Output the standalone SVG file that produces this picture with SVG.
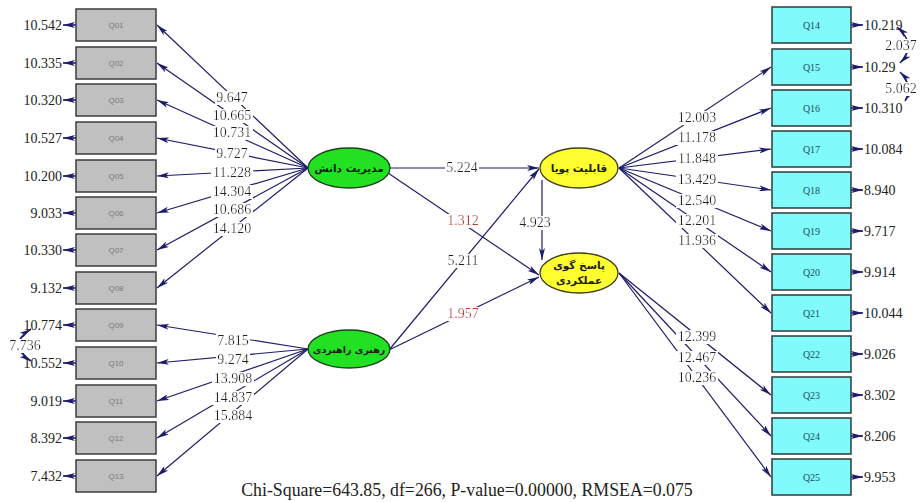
<svg xmlns="http://www.w3.org/2000/svg" width="922" height="502" viewBox="0 0 922 502">
  <style>
    .obsL { fill: #c0c0c0; stroke: #3c3c3c; stroke-width: 1.5; }
    .obsR { fill: #80fafa; stroke: #2f3a3a; stroke-width: 1.5; }
    .lblL { font-family: "Liberation Sans", Arial, sans-serif; font-size: 8px; fill: #7a7a7a; text-anchor: middle; }
    .lblR { font-family: "Liberation Serif", "Times New Roman", serif; font-size: 10px; fill: #1e4e5e; text-anchor: middle; }
    .green { fill: #22e022; stroke: #1f3f1f; stroke-width: 1.3; }
    .yellow { fill: #ffff30; stroke: #3f3f1f; stroke-width: 1.3; }
    .lat { font-family: "DejaVu Sans", "Noto Sans", sans-serif; font-weight: bold; font-size: 10.5px; fill: #1a1a1a; text-anchor: middle; }
    .lat.small { font-size: 9.5px; }
    .num { font-family: "Liberation Serif", "Times New Roman", serif; font-size: 14px; fill: #222; }
    .mid { text-anchor: middle; }
    .end { text-anchor: end; }
    .boxed text { filter: url(#bg); }
    .red { fill: #c0392b; }
    .path { stroke: #1c1c6b; stroke-width: 1.2; fill: none; marker-end: url(#ah); }
    .err { stroke: #1c1c6b; stroke-width: 1.6; fill: none; marker-end: url(#ah); }
    .cov { stroke: #1c1c6b; stroke-width: 1.5; fill: none; marker-start: url(#ah); marker-end: url(#ah); }
  </style>
  <defs>
    <marker id="ah" viewBox="0 0 12 6" refX="12" refY="3" markerWidth="12" markerHeight="6" markerUnits="userSpaceOnUse" orient="auto-start-reverse">
      <path d="M0,0 L12,3 L0,6 L3,3 z" fill="#1c1c6b"/>
    </marker>
    <!-- white box behind each coefficient so lines break around it -->
    <filter id="bg" x="-0.03" y="0.08" width="1.06" height="0.86">
      <feFlood flood-color="#fff"/>
      <feMerge>
        <feMergeNode/>
        <feMergeNode in="SourceGraphic"/>
      </feMerge>
    </filter>
  </defs>
  <rect width="922" height="502" fill="#fff"/>

  <!-- connectors -->
  <g id="connectors">
    <!-- knowledge management loadings -->
    <line class="path" x1="308" y1="168" x2="157" y2="25"/>
    <line class="path" x1="308" y1="168" x2="157" y2="63"/>
    <line class="path" x1="308" y1="168" x2="157" y2="100"/>
    <line class="path" x1="308" y1="168" x2="157" y2="138"/>
    <line class="path" x1="308" y1="168" x2="157" y2="176"/>
    <line class="path" x1="308" y1="168" x2="157" y2="213"/>
    <line class="path" x1="308" y1="168" x2="157" y2="250"/>
    <line class="path" x1="308" y1="168" x2="157" y2="288"/>
    <!-- strategic leadership loadings -->
    <line class="path" x1="308" y1="349" x2="157" y2="325"/>
    <line class="path" x1="308" y1="349" x2="157" y2="363"/>
    <line class="path" x1="308" y1="349" x2="157" y2="401"/>
    <line class="path" x1="308" y1="349" x2="157" y2="438"/>
    <line class="path" x1="308" y1="349" x2="157" y2="476"/>
    <!-- dynamic capability loadings -->
    <line class="path" x1="619" y1="168" x2="771" y2="67"/>
    <line class="path" x1="619" y1="168" x2="771" y2="108"/>
    <line class="path" x1="619" y1="168" x2="771" y2="149"/>
    <line class="path" x1="619" y1="168" x2="771" y2="190"/>
    <line class="path" x1="619" y1="168" x2="771" y2="231"/>
    <line class="path" x1="619" y1="168" x2="771" y2="272"/>
    <line class="path" x1="619" y1="168" x2="771" y2="313"/>
    <!-- performance accountability loadings -->
    <line class="path" x1="619" y1="273" x2="771" y2="395"/>
    <line class="path" x1="619" y1="273" x2="771" y2="436"/>
    <line class="path" x1="619" y1="273" x2="771" y2="477"/>
    <!-- structural paths -->
    <line class="path" x1="390" y1="168" x2="539" y2="168"/>
    <line class="path" x1="388" y1="173" x2="539" y2="275"/>
    <line class="path" x1="389" y1="350" x2="539" y2="169"/>
    <line class="path" x1="389" y1="350" x2="539" y2="277"/>
    <line class="path" x1="542" y1="180" x2="542" y2="260"/>
    <!-- error terms, left -->
    <line class="err" x1="76" y1="25" x2="63" y2="25"/>
    <line class="err" x1="76" y1="63" x2="63" y2="63"/>
    <line class="err" x1="76" y1="100" x2="63" y2="100"/>
    <line class="err" x1="76" y1="138" x2="63" y2="138"/>
    <line class="err" x1="76" y1="176" x2="63" y2="176"/>
    <line class="err" x1="76" y1="213" x2="63" y2="213"/>
    <line class="err" x1="76" y1="250" x2="63" y2="250"/>
    <line class="err" x1="76" y1="288" x2="63" y2="288"/>
    <line class="err" x1="76" y1="325" x2="63" y2="325"/>
    <line class="err" x1="76" y1="363" x2="63" y2="363"/>
    <line class="err" x1="76" y1="401" x2="63" y2="401"/>
    <line class="err" x1="76" y1="438" x2="63" y2="438"/>
    <line class="err" x1="76" y1="476" x2="63" y2="476"/>
    <!-- error terms, right -->
    <line class="err" x1="851" y1="25" x2="863" y2="25"/>
    <line class="err" x1="851" y1="67" x2="863" y2="67"/>
    <line class="err" x1="851" y1="108" x2="863" y2="108"/>
    <line class="err" x1="851" y1="149" x2="863" y2="149"/>
    <line class="err" x1="851" y1="190" x2="863" y2="190"/>
    <line class="err" x1="851" y1="231" x2="863" y2="231"/>
    <line class="err" x1="851" y1="272" x2="863" y2="272"/>
    <line class="err" x1="851" y1="313" x2="863" y2="313"/>
    <line class="err" x1="851" y1="354" x2="863" y2="354"/>
    <line class="err" x1="851" y1="395" x2="863" y2="395"/>
    <line class="err" x1="851" y1="436" x2="863" y2="436"/>
    <line class="err" x1="851" y1="477" x2="863" y2="477"/>
    <!-- error covariances -->
    <path class="cov" d="M31,329 Q6,345 31,361"/>
    <path class="cov" d="M897,27 Q918,45 900,63"/>
    <path class="cov" d="M900,72 Q914,86 905,101"/>
  </g>

  <!-- path coefficients -->
  <g id="coefficients" class="num mid boxed">
    <text x="232" y="102">9.647</text>
    <text x="232" y="120">10.665</text>
    <text x="232" y="137">10.731</text>
    <text x="232" y="158">9.727</text>
    <text x="232" y="177">11.228</text>
    <text x="232" y="196">14.304</text>
    <text x="232" y="214">10.686</text>
    <text x="232" y="233">14.120</text>
    <text x="233" y="345">7.815</text>
    <text x="233" y="364">9.274</text>
    <text x="233" y="383">13.908</text>
    <text x="233" y="402">14.837</text>
    <text x="233" y="420">15.884</text>
    <text x="697" y="122">12.003</text>
    <text x="697" y="142">11.178</text>
    <text x="697" y="163">11.848</text>
    <text x="697" y="184">13.429</text>
    <text x="697" y="205">12.540</text>
    <text x="697" y="225">12.201</text>
    <text x="697" y="245">11.936</text>
    <text x="697" y="341">12.399</text>
    <text x="697" y="362">12.467</text>
    <text x="697" y="382">10.236</text>
    <text x="462" y="172">5.224</text>
    <text x="463" y="225" class="red">1.312</text>
    <text x="463" y="265">5.211</text>
    <text x="463" y="318" class="red">1.957</text>
    <text x="535" y="227">4.923</text>
    <text x="25" y="350">7.736</text>
    <text x="901" y="50">2.037</text>
    <text x="901" y="93">5.062</text>
  </g>

  <!-- error variances -->
  <g id="errors-left" class="num end">
    <text x="62" y="30">10.542</text>
    <text x="62" y="68">10.335</text>
    <text x="62" y="105">10.320</text>
    <text x="62" y="143">10.527</text>
    <text x="62" y="181">10.200</text>
    <text x="62" y="218">9.033</text>
    <text x="62" y="255">10.330</text>
    <text x="62" y="293">9.132</text>
    <text x="62" y="330">10.774</text>
    <text x="62" y="368">10.552</text>
    <text x="62" y="406">9.019</text>
    <text x="62" y="443">8.392</text>
    <text x="62" y="481">7.432</text>
  </g>
  <g id="errors-right" class="num">
    <text x="864" y="30">10.219</text>
    <text x="864" y="72">10.29</text>
    <text x="864" y="113">10.310</text>
    <text x="864" y="154">10.084</text>
    <text x="864" y="195">8.940</text>
    <text x="864" y="236">9.717</text>
    <text x="864" y="277">9.914</text>
    <text x="864" y="318">10.044</text>
    <text x="864" y="359">9.026</text>
    <text x="864" y="400">8.302</text>
    <text x="864" y="441">8.206</text>
    <text x="864" y="482">9.953</text>
  </g>

  <!-- observed indicators, left -->
  <g id="Q01"><rect class="obsL" x="76" y="9" width="80" height="32"/><text class="lblL" x="116" y="28">Q01</text></g>
  <g id="Q02"><rect class="obsL" x="76" y="47" width="80" height="32"/><text class="lblL" x="116" y="66">Q02</text></g>
  <g id="Q03"><rect class="obsL" x="76" y="84" width="80" height="32"/><text class="lblL" x="116" y="103">Q03</text></g>
  <g id="Q04"><rect class="obsL" x="76" y="122" width="80" height="32"/><text class="lblL" x="116" y="141">Q04</text></g>
  <g id="Q05"><rect class="obsL" x="76" y="160" width="80" height="32"/><text class="lblL" x="116" y="179">Q05</text></g>
  <g id="Q06"><rect class="obsL" x="76" y="197" width="80" height="32"/><text class="lblL" x="116" y="216">Q06</text></g>
  <g id="Q07"><rect class="obsL" x="76" y="234" width="80" height="32"/><text class="lblL" x="116" y="253">Q07</text></g>
  <g id="Q08"><rect class="obsL" x="76" y="272" width="80" height="32"/><text class="lblL" x="116" y="291">Q08</text></g>
  <g id="Q09"><rect class="obsL" x="76" y="309" width="80" height="32"/><text class="lblL" x="116" y="328">Q09</text></g>
  <g id="Q10"><rect class="obsL" x="76" y="347" width="80" height="32"/><text class="lblL" x="116" y="366">Q10</text></g>
  <g id="Q11"><rect class="obsL" x="76" y="385" width="80" height="32"/><text class="lblL" x="116" y="404">Q11</text></g>
  <g id="Q12"><rect class="obsL" x="76" y="422" width="80" height="32"/><text class="lblL" x="116" y="441">Q12</text></g>
  <g id="Q13"><rect class="obsL" x="76" y="460" width="80" height="32"/><text class="lblL" x="116" y="479">Q13</text></g>

  <!-- observed indicators, right -->
  <g id="Q14"><rect class="obsR" x="772" y="7" width="79" height="36"/><text class="lblR" x="811.5" y="29">Q14</text></g>
  <g id="Q15"><rect class="obsR" x="772" y="49" width="79" height="36"/><text class="lblR" x="811.5" y="71">Q15</text></g>
  <g id="Q16"><rect class="obsR" x="772" y="90" width="79" height="36"/><text class="lblR" x="811.5" y="112">Q16</text></g>
  <g id="Q17"><rect class="obsR" x="772" y="131" width="79" height="36"/><text class="lblR" x="811.5" y="153">Q17</text></g>
  <g id="Q18"><rect class="obsR" x="772" y="172" width="79" height="36"/><text class="lblR" x="811.5" y="194">Q18</text></g>
  <g id="Q19"><rect class="obsR" x="772" y="213" width="79" height="36"/><text class="lblR" x="811.5" y="235">Q19</text></g>
  <g id="Q20"><rect class="obsR" x="772" y="254" width="79" height="36"/><text class="lblR" x="811.5" y="276">Q20</text></g>
  <g id="Q21"><rect class="obsR" x="772" y="295" width="79" height="36"/><text class="lblR" x="811.5" y="317">Q21</text></g>
  <g id="Q22"><rect class="obsR" x="772" y="336" width="79" height="36"/><text class="lblR" x="811.5" y="358">Q22</text></g>
  <g id="Q23"><rect class="obsR" x="772" y="377" width="79" height="36"/><text class="lblR" x="811.5" y="399">Q23</text></g>
  <g id="Q24"><rect class="obsR" x="772" y="418" width="79" height="36"/><text class="lblR" x="811.5" y="440">Q24</text></g>
  <g id="Q25"><rect class="obsR" x="772" y="459" width="79" height="36"/><text class="lblR" x="811.5" y="481">Q25</text></g>

  <!-- latent variables -->
  <g id="knowledge-management">
    <ellipse class="green" cx="349" cy="168" rx="41" ry="20"/>
    <text class="lat" x="349" y="172" direction="rtl">مدیریت دانش</text>
  </g>
  <g id="strategic-leadership">
    <ellipse class="green" cx="349" cy="349" rx="41" ry="19"/>
    <text class="lat small" x="349" y="353" direction="rtl">رهبری راهبردی</text>
  </g>
  <g id="dynamic-capability">
    <ellipse class="yellow" cx="579" cy="168" rx="39" ry="20"/>
    <text class="lat" x="579" y="172" direction="rtl">قابلیت پویا</text>
  </g>
  <g id="performance-accountability">
    <ellipse class="yellow" cx="579" cy="273" rx="39" ry="20"/>
    <text class="lat" x="579" y="269" direction="rtl">پاسخ گوی</text>
    <text class="lat" x="579" y="284" direction="rtl">عملکردی</text>
  </g>

  <!-- fit statistics -->
  <text x="467" y="496" class="mid" font-family="'Liberation Serif', 'Times New Roman', serif" font-size="17.8" fill="#222">Chi-Square=643.85, df=266, P-value=0.00000, RMSEA=0.075</text>
</svg>
